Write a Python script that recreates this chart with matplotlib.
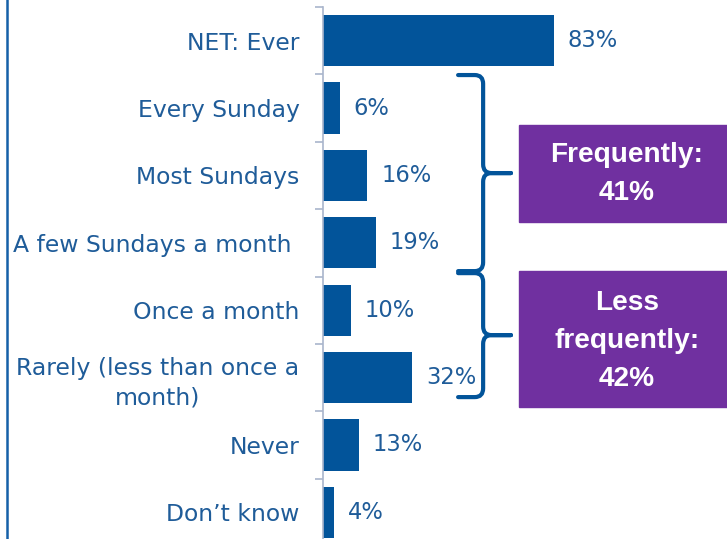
import numpy as np
import matplotlib.pyplot as plt
from matplotlib.path import Path
from matplotlib.patches import PathPatch, Rectangle

# datos
categorias = ["NET: Ever", "Every Sunday", "Most Sundays", "A few Sundays a month ",
              "Once a month", "Rarely (less than once a\nmonth)", "Never", "Don\u2019t know"]
valores = [83, 6, 16, 19, 10, 32, 13, 4]
grupos = ["Frequently:\n41%", "Less\nfrequently:\n42%"]

azul_barra = "#02549A"
azul_texto = "#1F5C99"
morado = "#7030A0"

fig = plt.figure(figsize=(7.27, 5.39), dpi=100)
# el eje se sale un poco por abajo, como en el original recortado
ax = fig.add_axes([323/727, 1 - 7/539 - 539/539, 278/727, 539/539])

y = np.arange(len(categorias))
ax.barh(y, valores, height=0.76, color=azul_barra)
ax.set_xlim(0, 100)
ax.set_ylim(len(categorias) - 0.5, -0.5)

for yi, v in zip(y, valores):
    ax.annotate(f"{v}%", (v, yi), xytext=(10, 0), textcoords="offset points",
                va="center", ha="left", fontsize=16.3, color=azul_texto)

ax.set_yticks(y)
ax.set_yticklabels(categorias, fontsize=16.9, color=azul_texto, multialignment="center",
                   linespacing=1.33)
ax.tick_params(axis="y", which="major", length=0, pad=17)
ax.set_yticks(np.arange(-0.5, len(categorias)), minor=True)
ax.tick_params(axis="y", which="minor", length=5.5, width=1.2, color="#A9B5CC")
ax.set_xticks([])
for s in ["top", "right", "bottom"]:
    ax.spines[s].set_visible(False)
ax.spines["left"].set_color("#A9B5CC")
ax.spines["left"].set_linewidth(1.2)


# llaves
def llave(ax, ytop, ybot, x0, x1, x2, rx=3.0, ry=0.13):
    ym = (ytop + ybot) / 2
    verts = [(x0, ytop), (x1 - rx, ytop), (x1, ytop), (x1, ytop + ry),
             (x1, ym - ry), (x1, ym), (x1 + rx, ym), (x2, ym),
             (x1 + rx, ym), (x1, ym), (x1, ym + ry),
             (x1, ybot - ry), (x1, ybot), (x1 - rx, ybot), (x0, ybot)]
    codes = [Path.MOVETO, Path.LINETO, Path.CURVE3, Path.CURVE3,
             Path.LINETO, Path.CURVE3, Path.CURVE3, Path.LINETO,
             Path.LINETO, Path.CURVE3, Path.CURVE3,
             Path.LINETO, Path.CURVE3, Path.CURVE3, Path.LINETO]
    ax.add_patch(PathPatch(Path(verts, codes), fill=False, lw=3.0, edgecolor=azul_barra,
                           capstyle="round", joinstyle="round", clip_on=False))


llave(ax, 0.51, 3.42, 48.6, 57.6, 67.6)
llave(ax, 3.45, 5.29, 48.6, 57.6, 67.6)

# cajas moradas
cajas = [(519, 125, 222, 174), (519, 271, 407, 341)]
for (xl, yt, yb, yc), txt in zip(cajas, grupos):
    fig.patches.append(Rectangle((xl/727, 1 - yb/539), 1, (yb - yt)/539,
                                 transform=fig.transFigure, color=morado, zorder=0))
    fig.text(627/727, 1 - yc/539, txt, ha="center", va="center", color="white",
             fontsize=20.2, fontweight="bold", family="Liberation Sans", linespacing=1.6)

# linea azul izquierda
fig.add_artist(plt.Line2D([6.5/727, 6.5/727], [0, 1], transform=fig.transFigure,
                          color="#1560A8", lw=1.8))

fig.savefig("out.png", dpi=100)
